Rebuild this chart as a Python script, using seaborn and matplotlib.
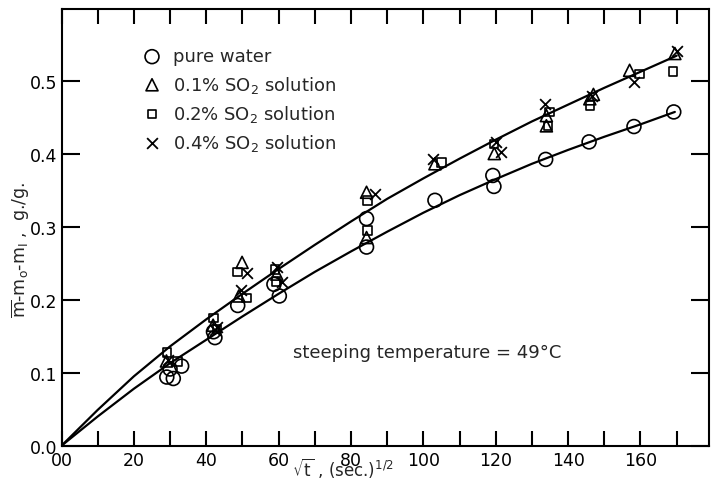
import matplotlib
matplotlib.use("Agg")
import matplotlib.pyplot as plt
from matplotlib.ticker import MultipleLocator, FuncFormatter
import seaborn as sns

# Measured points: sqrt(t) in (sec.)^1/2 and moisture gain in g./g.
water_x = [29.1, 30.9, 30.0, 33.2, 42.4, 42.0, 48.7, 58.7, 60.2, 84.3, 84.3,
           103.2, 119.2, 119.5, 133.8, 145.8, 158.2, 169.2]
water_y = [0.094, 0.092, 0.105, 0.109, 0.148, 0.156, 0.192, 0.221, 0.205, 0.311, 0.272,
           0.336, 0.370, 0.355, 0.392, 0.416, 0.437, 0.457]

so2_01_x = [29.0, 41.9, 49.9, 49.0, 59.5, 84.3, 84.3, 103.2, 119.6, 134.0, 134.0,
            146.0, 147.0, 157.0, 169.5]
so2_01_y = [0.116, 0.165, 0.251, 0.205, 0.235, 0.347, 0.285, 0.386, 0.400, 0.452, 0.438,
            0.475, 0.481, 0.514, 0.537]

so2_02_x = [29.2, 32.0, 42.0, 43.0, 48.6, 51.2, 59.0, 59.3, 84.5, 84.5, 105.0, 119.5,
            134.8, 134.5, 146.0, 159.8, 169.0]
so2_02_y = [0.128, 0.115, 0.175, 0.160, 0.238, 0.202, 0.241, 0.225, 0.336, 0.295, 0.388, 0.413,
            0.457, 0.438, 0.466, 0.509, 0.512]

so2_04_x = [29.5, 42.5, 43.0, 49.5, 51.2, 59.5, 60.8, 86.6, 102.7, 120.0, 121.4,
            133.6, 146.7, 158.2, 170.0]
so2_04_y = [0.118, 0.158, 0.163, 0.213, 0.237, 0.245, 0.224, 0.345, 0.393, 0.416, 0.402,
            0.468, 0.479, 0.498, 0.541]

# Smoothed curves (SO2 solutions on top, pure water below)
curve_x = [0, 10, 20, 30, 40, 50, 60, 70, 80, 90, 100, 110, 120, 130, 140, 150, 160, 170]
curve_so2_y = [0, 0.049, 0.095, 0.136, 0.173, 0.208, 0.242, 0.275, 0.307, 0.338, 0.366,
               0.393, 0.419, 0.444, 0.467, 0.490, 0.512, 0.534]
curve_water_x = [0, 10, 20, 30, 40, 50, 60, 70, 80, 90, 100, 110, 120, 130, 140, 150, 160, 169.5]
curve_water_y = [0, 0.040, 0.078, 0.113, 0.145, 0.177, 0.208, 0.238, 0.266, 0.293, 0.319,
                 0.343, 0.365, 0.386, 0.405, 0.423, 0.440, 0.457]

labels = ["pure water", "0.1% SO$_2$ solution", "0.2% SO$_2$ solution", "0.4% SO$_2$ solution"]

sns.set_style("ticks")
plt.rcParams["font.family"] = ["DejaVu Sans"]
plt.rcParams["mathtext.fontset"] = "dejavusans"
plt.rcParams["mathtext.default"] = "regular"

fig = plt.figure(figsize=(7.11, 4.81), dpi=100)
ax = fig.add_axes([0.0865, 0.0713, 0.911, 0.908])

sns.lineplot(x=curve_x, y=curve_so2_y, color="black", lw=1.6, ax=ax, sort=False,
             errorbar=None)
sns.lineplot(x=curve_water_x, y=curve_water_y, color="black", lw=1.6, ax=ax, sort=False,
             errorbar=None)

hollow = dict(facecolor="none", edgecolor="black", color="black", linewidth=1.2, zorder=3)
handles = []
sns.scatterplot(x=water_x, y=water_y, marker="o", s=100, ax=ax, **hollow)
handles.append(ax.collections[-1])
sns.scatterplot(x=so2_01_x, y=so2_01_y, marker="^", s=75, ax=ax, **hollow)
handles.append(ax.collections[-1])
sns.scatterplot(x=so2_02_x, y=so2_02_y, marker="s", s=38, ax=ax, **hollow)
handles.append(ax.collections[-1])
sns.scatterplot(x=so2_04_x, y=so2_04_y, marker="x", s=60, color="black", linewidth=1.3,
                ax=ax, zorder=3)
handles.append(ax.collections[-1])

ax.legend(handles=handles, labels=labels, loc="upper left", bbox_to_anchor=(0.123, 0.912),
          frameon=False, borderpad=0, borderaxespad=0, handlelength=1.2,
          handletextpad=0.55, labelspacing=0.45, fontsize=13)

ax.set_xlim(0, 179)
ax.set_ylim(0, 0.598)
ax.xaxis.set_major_locator(MultipleLocator(10))
ax.yaxis.set_major_locator(MultipleLocator(0.1))


def xfmt(v, pos):
    iv = int(round(v))
    if iv % 20 == 0 and iv <= 160:
        return "00" if iv == 0 else str(iv)
    return ""


ax.xaxis.set_major_formatter(FuncFormatter(xfmt))
ax.yaxis.set_major_formatter(FuncFormatter(lambda v, p: f"{v:.1f}"))
ax.tick_params(axis="x", direction="in", top=True, bottom=True, length=11, width=1.5,
               labelsize=12.5, pad=4, colors="black")
ax.tick_params(axis="y", direction="in", left=True, right=True, length=13, width=1.5,
               labelsize=12.5, pad=3, colors="black")
for sp in ax.spines.values():
    sp.set_visible(True)
    sp.set_linewidth(1.5)
    sp.set_color("black")

ax.set_xlabel("")
ax.set_ylabel("")
ax.text(0.435, -0.048, r"$\sqrt{t}$ , (sec.)$^{1/2}$", transform=ax.transAxes,
        ha="center", va="center", fontsize=12)
fig.text(0.03, 0.48, r"$\overline{m}$-m$_{o}$-m$_{I}$ ,  g./g.", rotation=90,
         ha="center", va="center", fontsize=12.5)
ax.text(101, 0.128, "steeping temperature = 49°C", ha="center", va="center", fontsize=13)

fig.savefig("out.png", dpi=100)
